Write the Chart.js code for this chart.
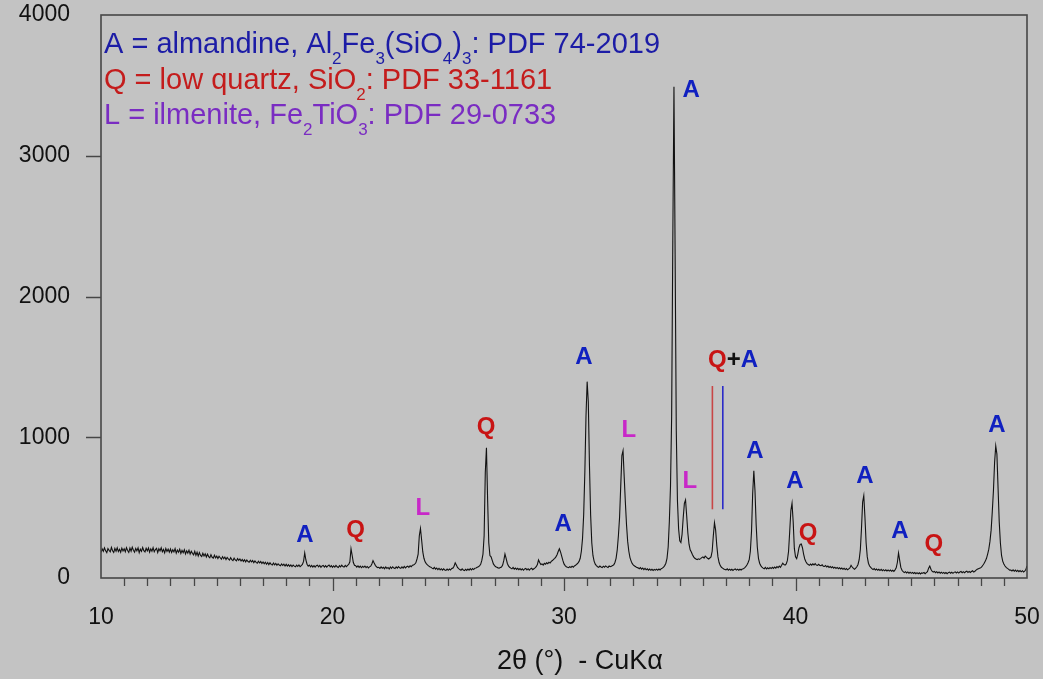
<!DOCTYPE html>
<html>
<head>
<meta charset="utf-8">
<script src="https://cdn.jsdelivr.net/npm/chart.js@4/dist/chart.umd.min.js"></script>
<style>
  html, body { margin: 0; padding: 0; background: #c3c3c3; }
  #wrap { width: 1043px; height: 679px; }
</style>
</head>
<body>
<div id="wrap"><canvas id="xrd" width="1043" height="679"></canvas></div>
<script>
// scan grid: 2theta from 10 to 50 every 0.05 deg
const startAngle = 10;
const angleStep = 0.05;

// counts, one row per degree (20 steps)
const counts10to20 = [
  182, 206, 190, 214, 193, 180, 209, 196, 186, 217, 194, 181, 210, 191, 215, 188, 204, 183, 212, 192,
  208, 187, 216, 195, 182, 212, 190, 219, 197, 184, 210, 193, 214, 180, 205, 189, 217, 194, 185, 211,
  193, 213, 183, 207, 190, 216, 186, 202, 211, 181, 208, 192, 215, 187, 203, 179, 210, 189, 205, 184,
  206, 181, 201, 186, 209, 177, 199, 183, 204, 174, 196, 180, 201, 171, 193, 177, 198, 170, 190, 175,
  165, 190, 162, 183, 156, 180, 160, 153, 176, 157, 172, 149, 169, 152, 144, 166, 147, 141, 162, 143,
  155, 138, 154, 144, 134, 152, 137, 149, 131, 146, 136, 127, 144, 131, 124, 141, 128, 122, 138, 126,
  135, 121, 132, 118, 130, 115, 128, 117, 112, 126, 114, 124, 109, 121, 111, 105, 119, 107, 117, 103,
  114, 101, 112, 98, 110, 95, 108, 97, 92, 106, 94, 104, 90, 101, 92, 87, 100, 89, 98, 85,
  97, 85, 95, 83, 93, 81, 92, 84, 79, 91, 82, 93, 81, 88, 96, 118, 178, 128, 98, 84,
  92, 80, 90, 78, 88, 77, 87, 91, 79, 89, 76, 86, 90, 78, 88, 77, 86, 92, 79, 88
];
const counts20to30 = [
  76, 87, 78, 90, 80, 75, 88, 79, 91, 81, 77, 89, 80, 90, 96, 115, 208, 160, 110, 90,
  88, 77, 86, 75, 84, 73, 83, 76, 85, 74, 82, 72, 79, 84, 100, 123, 106, 90, 80, 74,
  76, 68, 79, 70, 76, 66, 78, 68, 75, 64, 78, 69, 80, 71, 67, 79, 70, 81, 72, 68,
  79, 70, 82, 72, 80, 84, 76, 87, 80, 90, 92, 99, 108, 135, 170, 300, 352, 270, 185, 140,
  115, 102, 93, 86, 80, 77, 70, 66, 75, 63, 71, 60, 69, 58, 66, 56, 65, 57, 54, 63,
  55, 64, 57, 68, 70, 84, 108, 92, 75, 67, 60, 55, 65, 56, 52, 62, 54, 64, 56, 66,
  57, 67, 60, 70, 71, 76, 80, 86, 97, 125, 170, 300, 750, 926, 560, 250, 160, 150, 125, 100,
  88, 80, 76, 72, 70, 74, 78, 92, 125, 170, 140, 105, 86, 76, 70, 65, 75, 63, 71, 61,
  69, 59, 67, 57, 65, 55, 64, 68, 58, 66, 56, 65, 69, 59, 66, 72, 80, 95, 128, 110,
  96, 100, 92, 104, 98, 108, 102, 112, 106, 118, 124, 132, 140, 150, 165, 188, 208, 185, 155, 125
];
const counts30to40 = [
  100, 88, 80, 76, 73, 81, 75, 84, 77, 86, 90, 98, 105, 118, 140, 190, 280, 450, 750, 1150,
  1395, 1250, 800, 450, 250, 160, 120, 98, 88, 80, 76, 85, 78, 74, 84, 77, 86, 79, 75, 85,
  80, 84, 88, 94, 110, 140, 200, 300, 430, 650, 870, 905, 720, 540, 380, 260, 190, 145, 120, 102,
  92, 85, 80, 74, 72, 66, 74, 63, 71, 60, 68, 58, 65, 56, 64, 55, 62, 54, 61, 56,
  63, 55, 64, 57, 66, 70, 78, 88, 105, 140, 220, 400, 650, 1150, 2400, 3490, 2300, 1050, 550, 350,
  265, 252, 310, 430, 530, 554, 440, 320, 240, 200, 185, 165, 150, 140, 135, 130, 136, 132, 138, 145,
  150, 142, 155, 148, 140, 135, 142, 150, 190, 300, 393, 340, 230, 150, 110, 88, 76, 70, 64, 61,
  58, 65, 56, 63, 55, 62, 54, 61, 64, 56, 63, 55, 62, 57, 64, 66, 72, 80, 92, 108,
  130, 190, 330, 600, 762, 620, 380, 220, 140, 105, 88, 78, 70, 66, 75, 64, 72, 65, 74, 67,
  76, 68, 78, 70, 81, 74, 85, 76, 90, 105, 95, 92, 100, 125, 190, 330, 480, 531, 400, 210
];
const counts40to50 = [
  150, 138, 170, 215, 238, 242, 215, 170, 135, 115, 102, 96, 90, 99, 91, 101, 93, 102, 92, 90,
  97, 89, 88, 94, 84, 82, 89, 78, 85, 75, 82, 73, 80, 70, 77, 68, 75, 66, 73, 64,
  71, 62, 69, 60, 67, 58, 65, 72, 90, 78, 68, 62, 70, 80, 96, 130, 200, 350, 540, 585,
  430, 250, 150, 105, 85, 75, 66, 60, 67, 57, 64, 55, 62, 53, 61, 52, 59, 51, 58, 50,
  57, 49, 56, 48, 55, 47, 58, 72, 110, 178, 125, 75, 55, 45, 38, 45, 36, 43, 34, 41,
  33, 40, 32, 39, 31, 38, 30, 37, 29, 36, 34, 39, 31, 38, 45, 70, 85, 62, 48, 42,
  47, 38, 45, 36, 43, 34, 41, 33, 40, 32, 39, 31, 38, 42, 34, 41, 33, 40, 44, 36,
  43, 35, 42, 46, 38, 45, 37, 44, 49, 40, 47, 39, 46, 51, 42, 48, 56, 62, 66, 70,
  72, 80, 92, 105, 120, 140, 170, 205, 260, 340, 470, 620, 820, 938, 880, 640, 400, 250, 160, 120,
  100, 85, 76, 68, 63, 56, 57, 50, 58, 48, 56, 46, 54, 45, 53, 44, 52, 43, 49, 60,
  85
];

const xTickLabels = [10, 20, 30, 40, 50];
const yTickValues = [0, 1000, 2000, 3000, 4000];

// phase marks above the peaks (2theta, counts)
const peakLabelText = ["A", "Q", "L", "Q", "A", "A", "L", "A", "L", "Q+A", "A", "A", "Q", "A", "A", "Q", "A"];
const peakLabelX = [18.81, 21.0, 23.9, 26.63, 29.96, 30.86, 32.8, 35.49, 35.44, 37.3, 38.25, 39.98, 40.54, 43.0, 44.51, 45.98, 48.7];
const peakLabelY = [305, 341, 497, 1073, 384, 1570, 1052, 3467, 689, 1549, 902, 689, 320, 725, 334, 242, 1087];

// reference lines for the overlapping Q and A reflections
const quartzLineAngle = 36.41;
const garnetLineAngle = 36.86;
const refLineRange = [488, 1364];

// "_n" marks a subscript digit
const legendLines = [
  "A = almandine, Al_2Fe_3(SiO_4)_3: PDF 74-2019",
  "Q = low quartz, SiO_2: PDF 33-1161",
  "L = ilmenite, Fe_2TiO_3: PDF 29-0733"
];
const legendColors = ["#1c1ca6", "#c41c1c", "#7a2cc2"];

const axisTitle = "2θ (°)  - CuKα";

const FAMILY = '"Liberation Sans", Arial, sans-serif';
const markColors = { A: "#1020c0", Q: "#c81414", L: "#c828c8", "+": "#111111" };

const counts = counts10to20.concat(counts20to30, counts30to40, counts40to50);
const trace = counts.map((c, i) => ({ x: +(startAngle + i * angleStep).toFixed(2), y: c }));

function drawRich(ctx, text, x, y, size, color) {
  let cx = x;
  const parts = text.split(/(_\d)/).filter(Boolean);
  ctx.fillStyle = color;
  parts.forEach(p => {
    if (p[0] === "_") {
      ctx.font = `${Math.round(size * 0.6)}px ${FAMILY}`;
      ctx.fillText(p.slice(1), cx, y + 11);
      cx += ctx.measureText(p.slice(1)).width;
    } else {
      ctx.font = `${size}px ${FAMILY}`;
      ctx.fillText(p, cx, y);
      cx += ctx.measureText(p).width;
    }
  });
}

const decorations = {
  id: "decorations",
  beforeDraw(chart) {
    const { ctx, width, height } = chart;
    ctx.save();
    ctx.fillStyle = "#c3c3c3";
    ctx.fillRect(0, 0, width, height);
    ctx.restore();
  },
  afterDraw(chart) {
    const { ctx, chartArea: a, scales: { x, y } } = chart;
    ctx.save();

    // frame
    ctx.strokeStyle = "#474747";
    ctx.lineWidth = 1.6;
    ctx.strokeRect(a.left, a.top, a.right - a.left, a.bottom - a.top);

    // tick marks
    ctx.lineWidth = 1.3;
    ctx.beginPath();
    x.ticks.forEach(t => {
      if (t.value <= x.min || t.value >= x.max) return;
      const px = Math.round(x.getPixelForValue(t.value)) + 0.5;
      const len = xTickLabels.includes(t.value) ? 13 : 8;
      ctx.moveTo(px, a.bottom);
      ctx.lineTo(px, a.bottom + len);
    });
    yTickValues.forEach(v => {
      if (v <= y.min || v >= y.max) return;
      const py = Math.round(y.getPixelForValue(v)) + 0.5;
      ctx.moveTo(a.left, py);
      ctx.lineTo(a.left - 15, py);
    });
    ctx.stroke();

    // peak marks
    ctx.font = `bold 24px ${FAMILY}`;
    ctx.textBaseline = "middle";
    ctx.textAlign = "left";
    peakLabelText.forEach((txt, i) => {
      const w = ctx.measureText(txt).width;
      let cx = x.getPixelForValue(peakLabelX[i]) - w / 2;
      const cy = y.getPixelForValue(peakLabelY[i]);
      for (const ch of txt) {
        ctx.fillStyle = markColors[ch];
        ctx.fillText(ch, cx, cy);
        cx += ctx.measureText(ch).width;
      }
    });

    // phase legend
    ctx.textBaseline = "alphabetic";
    legendLines.forEach((line, i) => {
      drawRich(ctx, line, a.left + 3, a.top + 38 + i * 35.5, 29, legendColors[i]);
    });

    // axis title
    ctx.font = `27px ${FAMILY}`;
    ctx.fillStyle = "#111111";
    ctx.textAlign = "center";
    ctx.textBaseline = "middle";
    ctx.fillText(axisTitle, (a.left + a.right) / 2 + 16, 662);

    ctx.restore();
  }
};

new Chart(document.getElementById("xrd"), {
  type: "line",
  data: {
    datasets: [
      { data: trace, borderColor: "#111111", borderWidth: 1.1, pointRadius: 0, tension: 0 },
      {
        data: refLineRange.map(v => ({ x: quartzLineAngle, y: v })),
        borderColor: "#c84646", borderWidth: 1.6, pointRadius: 0
      },
      {
        data: refLineRange.map(v => ({ x: garnetLineAngle, y: v })),
        borderColor: "#2a2ac8", borderWidth: 1.6, pointRadius: 0
      }
    ]
  },
  options: {
    responsive: false,
    animation: false,
    devicePixelRatio: 1,
    layout: { padding: { top: 15, right: 16, left: 0, bottom: 0 } },
    plugins: { legend: { display: false }, tooltip: { enabled: false } },
    scales: {
      x: {
        type: "linear",
        min: 10,
        max: 50,
        afterFit: s => { s.height = 101; s.paddingLeft = 0; s.paddingRight = 0; },
        grid: { display: false, drawTicks: false },
        border: { display: false },
        ticks: {
          stepSize: 1,
          autoSkip: false,
          maxRotation: 0,
          padding: 26,
          color: "#111111",
          font: { size: 23, family: FAMILY },
          callback: v => (xTickLabels.includes(v) ? String(v) : "")
        }
      },
      y: {
        min: 0,
        max: 4000,
        afterFit: s => { s.width = 101; s.paddingTop = 0; s.paddingBottom = 0; },
        grid: { display: false, drawTicks: false },
        border: { display: false },
        ticks: {
          stepSize: 1000,
          padding: 31,
          color: "#111111",
          font: { size: 23, family: FAMILY },
          callback: v => String(v)
        }
      }
    }
  },
  plugins: [decorations]
});
</script>
</body>
</html>
